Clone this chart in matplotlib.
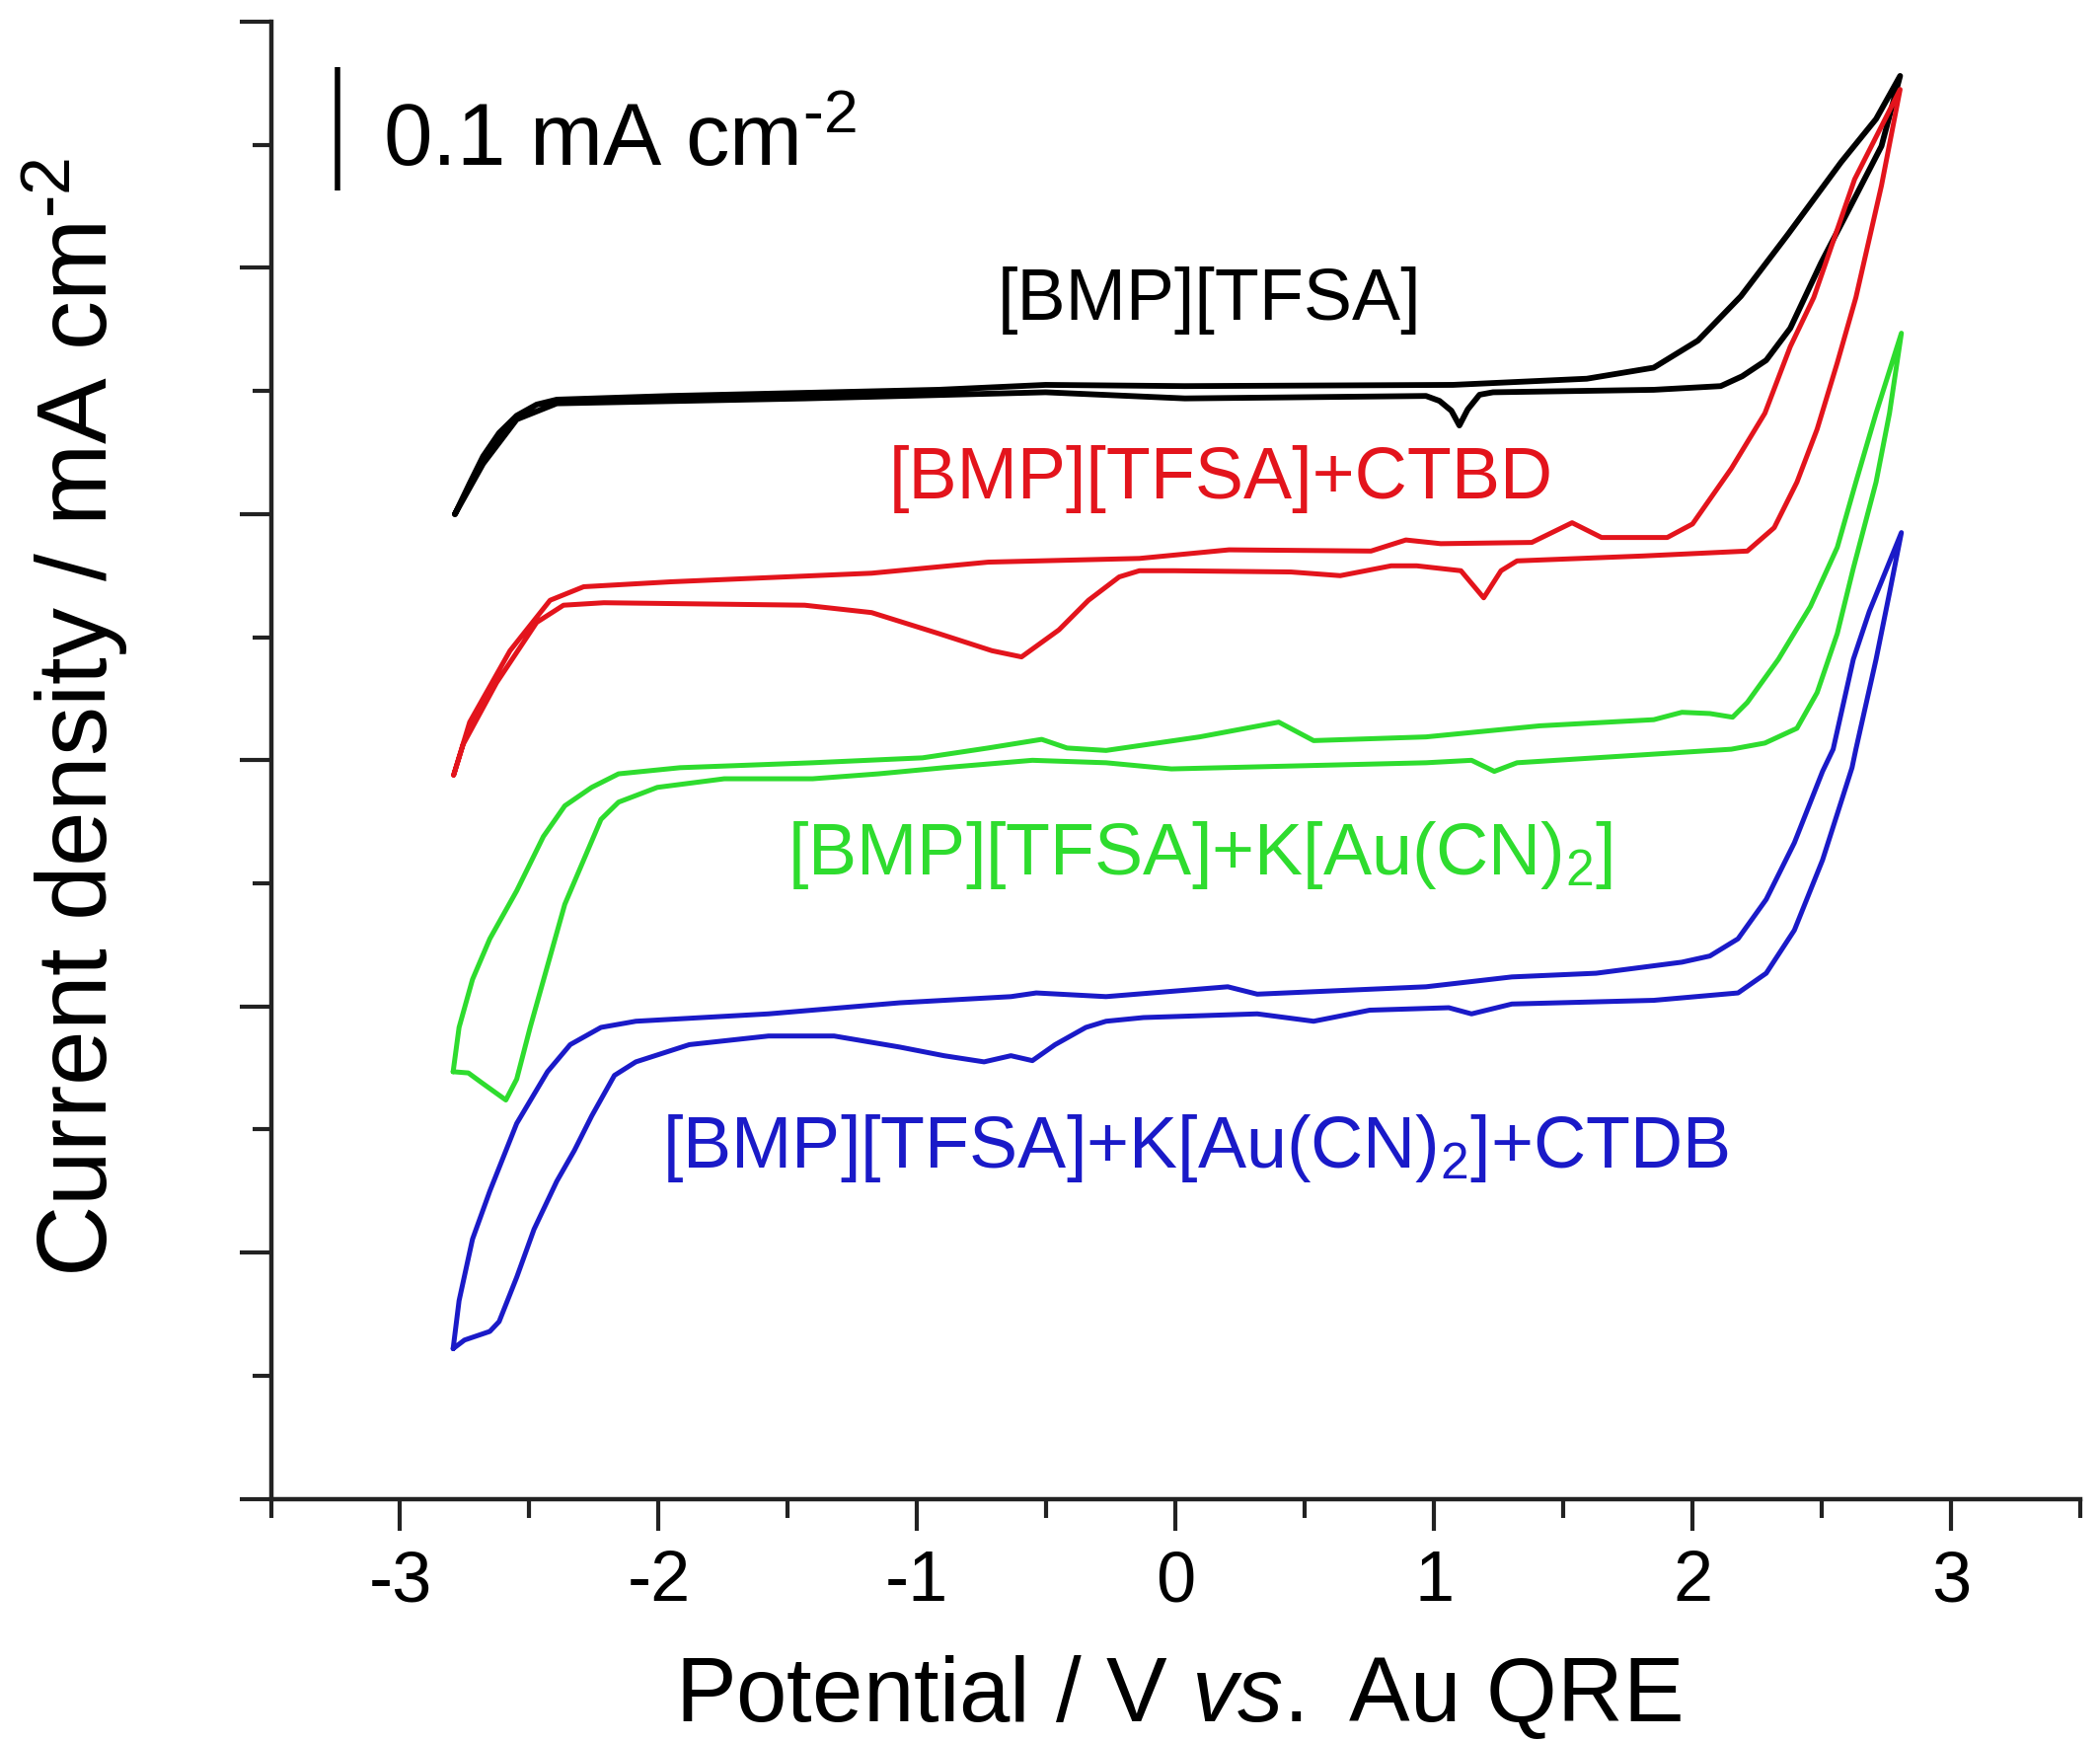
import matplotlib
matplotlib.use('Agg')
import matplotlib.pyplot as plt
import numpy as np
from matplotlib.ticker import MultipleLocator, NullFormatter

plt.rcParams['font.family'] = ['Liberation Sans', 'DejaVu Sans']
plt.rcParams['mathtext.fontset'] = 'custom'
plt.rcParams['mathtext.rm'] = 'Liberation Sans'
plt.rcParams['mathtext.it'] = 'Liberation Sans:italic'
plt.rcParams['axes.unicode_minus'] = False

# cyclic voltammograms, potential in V vs Au QRE, current density (offset, mA cm-2)
# each loop: anodic sweep from -2.8 V up to +2.8 V, then cathodic sweep back
black_E_an = [-2.788, -2.731, -2.679, -2.617, -2.549, -2.472, -2.394, -1.953, -0.917, -0.503,
              0.036, 1.073, 1.591, 1.850, 2.021, 2.187, 2.368, 2.575, 2.710, 2.803]
black_j_an = [0.800, 0.825, 0.847, 0.866, 0.880, 0.889, 0.893, 0.896, 0.901, 0.905,
              0.904, 0.905, 0.910, 0.919, 0.941, 0.977, 1.027, 1.086, 1.121, 1.156]
black_E_ca = [2.731, 2.606, 2.497, 2.378, 2.285, 2.192, 2.109, 1.850, 1.228, 1.176, 1.130,
              1.098, 1.067, 1.021, 0.969, 0.036, -0.503, -1.435, -2.394, -2.549, -2.679, -2.788]
black_j_ca = [1.099, 1.048, 1.004, 0.951, 0.925, 0.912, 0.904, 0.901, 0.899, 0.897, 0.885,
              0.872, 0.884, 0.892, 0.896, 0.894, 0.899, 0.894, 0.890, 0.877, 0.841, 0.800]

red_E_an = [-2.793, -2.731, -2.575, -2.420, -2.290, -1.953, -1.176, -0.725, -0.140, 0.207,
            0.756, 0.891, 1.026, 1.378, 1.534, 1.648, 1.902, 2.000, 2.150, 2.280, 2.378,
            2.469, 2.627, 2.803]
red_j_an = [0.588, 0.631, 0.689, 0.730, 0.741, 0.745, 0.752, 0.761, 0.764, 0.771,
            0.770, 0.779, 0.776, 0.777, 0.793, 0.781, 0.781, 0.792, 0.837, 0.882, 0.936,
            0.976, 1.072, 1.145]
red_E_ca = [2.731, 2.632, 2.560, 2.482, 2.404, 2.316, 2.212, 1.808, 1.321, 1.259, 1.192,
            1.104, 0.933, 0.834, 0.637, 0.446, -0.005, -0.140, -0.218, -0.337, -0.451,
            -0.596, -0.710, -0.917, -1.176, -1.435, -2.212, -2.368, -2.472, -2.627, -2.756, -2.793]
red_j_ca = [1.067, 0.976, 0.923, 0.869, 0.826, 0.789, 0.770, 0.766, 0.762, 0.754, 0.732,
            0.754, 0.758, 0.758, 0.750, 0.753, 0.754, 0.754, 0.749, 0.730, 0.706,
            0.684, 0.689, 0.703, 0.720, 0.726, 0.728, 0.726, 0.712, 0.663, 0.613, 0.588]

green_E_an = [-2.795, -2.772, -2.720, -2.653, -2.549, -2.446, -2.363, -2.259, -2.155, -1.917,
              -1.404, -0.979, -0.725, -0.518, -0.420, -0.269, 0.093, 0.399, 0.534, 0.969,
              1.409, 1.850, 1.959, 2.067, 2.155, 2.212, 2.332, 2.456, 2.560, 2.632, 2.710, 2.808]
green_j_an = [0.347, 0.383, 0.422, 0.455, 0.494, 0.538, 0.563, 0.578, 0.589, 0.594,
              0.598, 0.602, 0.610, 0.617, 0.610, 0.608, 0.619, 0.631, 0.616, 0.619,
              0.628, 0.633, 0.639, 0.638, 0.635, 0.647, 0.682, 0.725, 0.773, 0.826, 0.882, 0.947]
green_E_ca = [2.762, 2.710, 2.622, 2.560, 2.482, 2.404, 2.280, 2.150, 1.850, 1.321, 1.233,
              1.145, 0.969, -0.016, -0.269, -0.554, -0.896, -1.150, -1.404, -1.746, -2.005,
              -2.155, -2.223, -2.290, -2.363, -2.430, -2.497, -2.549, -2.591, -2.684, -2.736, -2.795]
green_j_ca = [0.882, 0.826, 0.756, 0.703, 0.655, 0.626, 0.614, 0.609, 0.605, 0.598, 0.591,
              0.600, 0.598, 0.593, 0.598, 0.600, 0.594, 0.589, 0.585, 0.585, 0.578,
              0.566, 0.552, 0.519, 0.483, 0.433, 0.383, 0.341, 0.324, 0.338, 0.346, 0.347]

blue_E_an = [-2.795, -2.772, -2.720, -2.653, -2.549, -2.430, -2.342, -2.223, -2.088, -1.575,
             -1.067, -0.637, -0.539, -0.269, 0.202, 0.316, 0.969, 1.301, 1.627, 1.959,
             2.067, 2.176, 2.285, 2.394, 2.503, 2.544, 2.622, 2.684, 2.808]
blue_j_an = [0.122, 0.161, 0.211, 0.250, 0.305, 0.347, 0.369, 0.383, 0.388, 0.394,
             0.403, 0.408, 0.411, 0.408, 0.416, 0.410, 0.416, 0.424, 0.427, 0.436,
             0.441, 0.455, 0.487, 0.533, 0.591, 0.609, 0.682, 0.721, 0.785]
blue_E_ca = [2.762, 2.710, 2.632, 2.617, 2.503, 2.394, 2.285, 2.176, 1.850, 1.301, 1.145,
             1.057, 0.751, 0.534, 0.316, -0.124, -0.269, -0.347, -0.466, -0.554, -0.637,
             -0.741, -0.896, -1.067, -1.321, -1.575, -1.881, -2.088, -2.171, -2.259, -2.326,
             -2.394, -2.482, -2.549, -2.617, -2.653, -2.751, -2.795]
blue_j_ca = [0.736, 0.682, 0.609, 0.594, 0.519, 0.462, 0.427, 0.411, 0.405, 0.402, 0.394,
             0.399, 0.397, 0.388, 0.394, 0.391, 0.388, 0.383, 0.369, 0.356, 0.360,
             0.355, 0.360, 0.367, 0.376, 0.376, 0.369, 0.355, 0.344, 0.311, 0.283,
             0.258, 0.219, 0.180, 0.144, 0.136, 0.129, 0.122]

labels = ['[BMP][TFSA]',
          '[BMP][TFSA]+CTBD',
          r'[BMP][TFSA]+K[Au(CN)$\mathregular{_2}$]',
          r'[BMP][TFSA]+K[Au(CN)$\mathregular{_2}$]+CTDB']
label_pos = [(0.132, 0.958), (0.174, 0.813), (0.095, 0.507), (0.077, 0.269)]
colors = ['black', '#e3141c', '#2edc2e', '#1a1ac8']

fig = plt.figure(figsize=(21.28, 17.64), dpi=100)
ax = fig.add_axes([0.129, 0.1391, 0.9906 - 0.129, 0.9875 - 0.1391])

curves = [(black_E_an + black_E_ca, black_j_an + black_j_ca),
          (red_E_an + red_E_ca, red_j_an + red_j_ca),
          (green_E_an + green_E_ca, green_j_an + green_j_ca),
          (blue_E_an + blue_E_ca, blue_j_an + blue_j_ca)]
widths = [4.2, 3.6, 3.6, 3.6]
for (E, j), c, w in zip(curves, colors, widths):
    ax.plot(E, j, color=c, lw=w, solid_joinstyle='round', solid_capstyle='round')

for lab, (x, y), c in zip(labels, label_pos, colors):
    ax.text(x, y, lab, color=c, fontsize=53, ha='center', va='baseline')

# scale bar 0.1 mA cm-2
ax.plot([-3.241, -3.241], [1.063, 1.163], color='black', lw=4, solid_capstyle='butt')
ax.text(-3.067, 1.083, r'0.1 mA cm$\mathregular{^{\text{-}2}}$', fontsize=64,
        ha='left', va='baseline')

ax.set_xlim(-3.5, 3.5)
ax.set_ylim(0, 1.2)
ax.spines['top'].set_visible(False)
ax.spines['right'].set_visible(False)
for s in ['left', 'bottom']:
    ax.spines[s].set_linewidth(3.2)
    ax.spines[s].set_color('#222222')

ax.xaxis.set_major_locator(MultipleLocator(1))
ax.xaxis.set_minor_locator(MultipleLocator(0.5))
ax.yaxis.set_major_locator(MultipleLocator(0.2))
ax.yaxis.set_minor_locator(MultipleLocator(0.1))
ax.yaxis.set_major_formatter(NullFormatter())
ax.tick_params(which='major', direction='out', length=23, width=3, color='#222222')
ax.tick_params(which='minor', direction='out', length=13.5, width=3, color='#222222')
ax.tick_params(axis='x', which='major', labelsize=52, pad=14)

fig.text(0.561, 0.0115, r'Potential / V $\mathit{vs.}$ Au QRE', fontsize=66.5,
         ha='center', va='baseline')
fig.text(0.036, 0.588, r'Current density / mA cm$\mathregular{^{\text{-}2}}$', fontsize=72,
         rotation=90, ha='center', va='center')

fig.savefig('out.png', dpi=100)
